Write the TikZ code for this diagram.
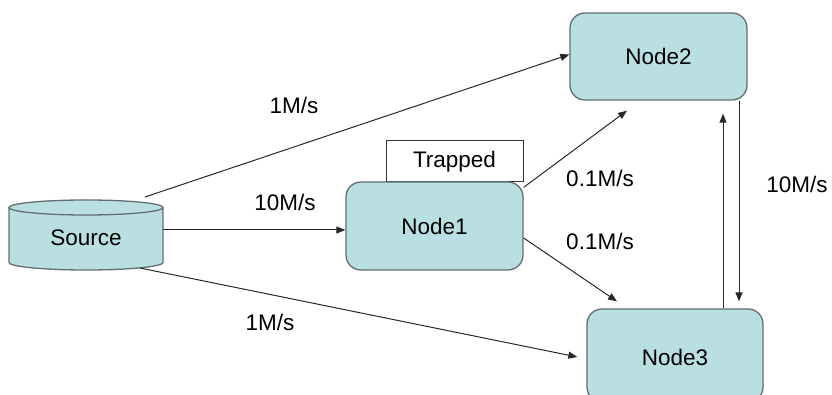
\documentclass[tikz,border=0pt]{standalone}
\usepackage{fontspec}
\setmainfont{Liberation Sans}
\usetikzlibrary{arrows.meta}

\definecolor{boxfill}{RGB}{185,223,226}
\definecolor{boxline}{RGB}{98,110,112}
\definecolor{arrline}{RGB}{40,40,40}

\tikzset{
  every node/.style={font=\fontsize{22.5}{27}\selectfont},
  nodebox/.style={draw=boxline, fill=boxfill, line width=1.3pt,
    rounded corners=15pt, inner sep=0pt},
  tagbox/.style={draw=black!80, fill=white, line width=1pt, inner sep=0pt},
  arr/.style={draw=arrline, line width=1pt,
    -{Triangle[length=9pt,width=7pt]}},
  link/.style={draw=arrline, line width=1pt},
  rate/.style={inner sep=0pt}
}

\begin{document}
\begin{tikzpicture}[x=1pt,y=1pt]
  \useasboundingbox (0,0) rectangle (832,395);
  \clip (0,0) rectangle (832,395);

  % database cylinder
  \fill[boxfill] (9,187.5) -- (9,132.5)
    arc[start angle=180, end angle=360, x radius=77, y radius=7.5]
    -- (163,187.5)
    arc[start angle=0, end angle=180, x radius=77, y radius=7.5] -- cycle;
  \draw[boxline, line width=1.3pt] (9,187.5) -- (9,132.5)
    arc[start angle=180, end angle=360, x radius=77, y radius=7.5]
    -- (163,187.5);
  \draw[boxline, line width=1.3pt] (86,187.5) ellipse[x radius=77, y radius=7.5];
  \node[minimum width=154pt, minimum height=70pt, inner sep=0pt] (src) at (86,160) {};
  \node at (86,157) {Source};

  % boxes
  \node[tagbox, minimum width=137pt, minimum height=41pt] (trap) at (454.5,233.5) {Trapped};
  \node[nodebox, minimum width=177pt, minimum height=88pt] (n1) at (434.5,169) {Node1};
  \node[nodebox, minimum width=177pt, minimum height=87pt] (n2) at (658.5,338.5) {Node2};
  \node[nodebox, minimum width=176pt, minimum height=93pt] (n3) at (675,39.5) {};
  \node at (675,38) {Node3};

  % connectors
  \draw[arr] ([shift={(59,38)}]src.center) -- ([yshift=2pt]n2.west);
  \draw[arr] ([yshift=5pt]src.east) -- ([yshift=-4pt]n1.west);
  \draw[arr] ([shift={(54,-33)}]src.center) -- ([shift={(-9,-1.5)}]n3.west);
  \draw[arr] ([yshift=-6pt]n1.north east) -- ([shift={(-31.5,-10)}]n2.south);
  \draw[arr] ([yshift=-12pt]n1.east) -- ([shift={(-58,7)}]n3.north);
  \draw[arr] ([xshift=48pt]n3.north) -- ([shift={(64.5,-13)}]n2.south);
  \draw[arr] ([xshift=80.5pt]n2.south) -- ([shift={(64,7)}]n3.north);

  % rates
  \node[rate] (r1) at (294,289.5) {1M/s};
  \node[rate] (r2) at (285,193) {10M/s};
  \node[rate] (r3) at (270,73) {1M/s};
  \node[rate] (r4) at (600,217) {0.1M/s};
  \node[rate] (r5) at (600,153.5) {0.1M/s};
  \node[rate] (r6) at (797,210.5) {10M/s};
\end{tikzpicture}
\end{document}
